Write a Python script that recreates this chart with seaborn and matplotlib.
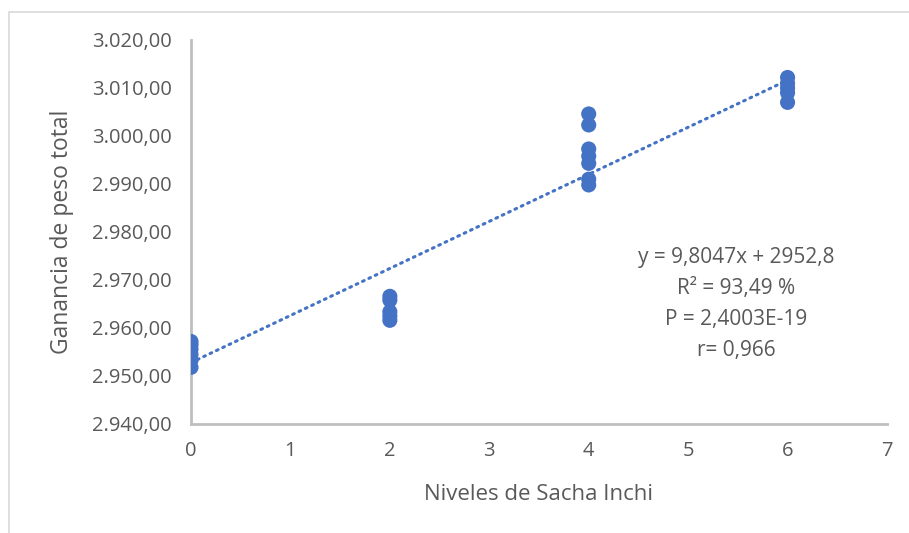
import numpy as np
import pandas as pd
import matplotlib
matplotlib.use("Agg")
import matplotlib.pyplot as plt
from matplotlib.ticker import FuncFormatter, MultipleLocator
from matplotlib.patches import Rectangle
import seaborn as sns

# Observed total weight gain per Sacha Inchi level
niveles_0 = [0, 0, 0, 0, 0, 0]
ganancia_0 = [2957.2, 2956.5, 2955.6, 2954.5, 2953.3, 2951.8]
niveles_2 = [2, 2, 2, 2, 2]
ganancia_2 = [2966.6, 2965.8, 2963.4, 2962.5, 2961.6]
niveles_4 = [4, 4, 4, 4, 4, 4, 4]
ganancia_4 = [3004.6, 3002.3, 2997.3, 2995.8, 2994.3, 2991.0, 2989.8]
niveles_6 = [6, 6, 6, 6, 6]
ganancia_6 = [3012.2, 3011.0, 3010.0, 3009.0, 3007.0]

# Linear trend reported on the chart
pendiente = 9.8047
intercepto = 2952.8
tramo_x = [0, 6]

anotacion = ["y = 9,8047x + 2952,8", "R² = 93,49 %", "P = 2,4003E-19", "r= 0,966"]

df = pd.DataFrame({
    "nivel": niveles_0 + niveles_2 + niveles_4 + niveles_6,
    "ganancia": ganancia_0 + ganancia_2 + ganancia_4 + ganancia_6,
})

sns.set_style("white")
plt.rcParams["font.family"] = ["Open Sans", "DejaVu Sans"]

azul = "#4472C4"
gris_texto = "#595959"
gris_eje = "#BFBFBF"

fig = plt.figure(figsize=(9.09, 5.33), dpi=100)
# light chart-area frame
fig.patches.append(Rectangle((9 / 909, -0.01), 1.0, 1 - 12 / 533 + 0.01,
                             transform=fig.transFigure, fill=False,
                             edgecolor="#D9D9D9", linewidth=1.2))
ax = fig.add_axes([191 / 909, 1 - 424 / 533, (887 - 191) / 909, (424 - 40) / 533])

sns.scatterplot(data=df, x="nivel", y="ganancia", ax=ax, color=azul,
                s=118, edgecolor="none", linewidth=0, legend=False, zorder=3)

tx = np.array(tramo_x, dtype=float)
sns.lineplot(x=tx, y=pendiente * tx + intercepto, ax=ax, color=azul,
             linewidth=2.2, linestyle=(0, (0.6, 1.7)), dash_capstyle="round",
             legend=False, zorder=2)

ax.set_xlim(0, 7)
ax.set_ylim(2940, 3020)
ax.xaxis.set_major_locator(MultipleLocator(1))
ax.yaxis.set_major_locator(MultipleLocator(10))


def formato_es(v, pos):
    s = f"{v:,.2f}"
    return s.replace(",", "X").replace(".", ",").replace("X", ".")


ax.yaxis.set_major_formatter(FuncFormatter(formato_es))
ax.tick_params(axis="both", length=0, labelsize=14.5, labelcolor=gris_texto)
ax.tick_params(axis="x", pad=12)
ax.tick_params(axis="y", pad=14)

for lado in ["top", "right"]:
    ax.spines[lado].set_visible(False)
for lado in ["left", "bottom"]:
    ax.spines[lado].set_color(gris_eje)
    ax.spines[lado].set_linewidth(2)

ax.set_xlabel("Niveles de Sacha Inchi", fontsize=16, color=gris_texto, labelpad=17)
ax.set_ylabel("Ganancia de peso total", fontsize=16.5, color=gris_texto, labelpad=13)

ax.text(5.48, 2965.0, "\n".join(anotacion), ha="center", va="center",
        fontsize=15, color=gris_texto, linespacing=1.62)

fig.savefig("out.png", dpi=100)
